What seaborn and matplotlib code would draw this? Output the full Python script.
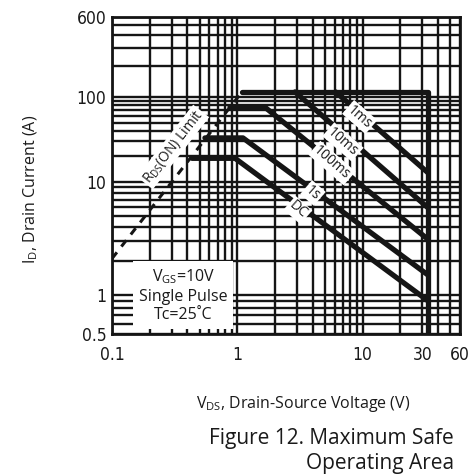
import numpy as np
import pandas as pd
import matplotlib
matplotlib.use("Agg")
import matplotlib.pyplot as plt
from matplotlib.ticker import FixedLocator, FixedFormatter, NullFormatter
from matplotlib import font_manager as fm
import seaborn as sns

# ---------------- data ----------------
curve_names = ["boundary", "1ms", "10ms", "100ms", "1s", "DC"]
boundary_v = [1.09, 33.4, 33.4]
boundary_i = [112, 112, 0.5]
ms1_v = [6.1, 33.4]
ms1_i = [112, 12.8]
ms10_v = [2.89, 33.4]
ms10_i = [112, 5.9]
ms100_v = [0.875, 1.66, 33.4]
ms100_i = [76, 76, 3.1]
s1_v = [0.552, 1.11, 33.4]
s1_i = [33, 33, 1.5]
dc_v = [0.435, 0.96, 33.4]
dc_i = [19, 19, 0.9]
rds_v = [0.1, 1.09]
rds_i = [2.1, 112]

label_texts = ["1ms", "10ms", "100ms", "1s", "DC"]
label_v = [9.5, 6.98, 5.70, 4.02, 3.05]
label_i = [58.2, 29.6, 16.7, 8.0, 5.65]

x_major = [0.1, 1, 10, 30, 60]
x_major_labels = ["0.1", "1", "10", "30", "60"]
x_minor = [0.2, 0.3, 0.4, 0.5, 0.6, 0.7, 0.8, 0.9,
           2, 3, 4, 5, 6, 7, 8, 9, 20, 40, 50]
y_major = [0.5, 1, 10, 100, 600]
y_major_labels = ["0.5", "1", "10", "100", "600"]
y_minor = [0.6, 0.7, 0.8, 0.9, 2, 3, 4, 5, 6, 7, 8, 9,
           20, 30, 40, 50, 60, 70, 80, 90, 200, 300, 400, 500]

# ---------------- build long table ----------------
rows = []
for name, vs, is_ in zip(curve_names,
                         [boundary_v, ms1_v, ms10_v, ms100_v, s1_v, dc_v],
                         [boundary_i, ms1_i, ms10_i, ms100_i, s1_i, dc_i]):
    for k, (v, i) in enumerate(zip(vs, is_)):
        rows.append({"curve": name, "order": k, "V": v, "I": i})
df = pd.DataFrame(rows)
df_rds = pd.DataFrame({"curve": "rds", "V": rds_v, "I": rds_i})

# ---------------- style ----------------
sns.set_style("white")
plt.rcParams["font.family"] = ["Open Sans", "DejaVu Sans"]
plt.rcParams["mathtext.fontset"] = "custom"
plt.rcParams["mathtext.rm"] = "Open Sans"

# pick a narrow face for the tick numbers if one is installed
_names = {f.name for f in fm.fontManager.ttflist}
if "Liberation Sans Narrow" in _names:
    tick_fp = fm.FontProperties(family="Liberation Sans Narrow", size=13)
else:
    tick_fp = fm.FontProperties(family="DejaVu Sans", stretch="condensed",
                                size=12.5)

# non-uniform log axis of the original drawing (piecewise in log space)
Y_LOG = np.array([np.log10(0.5), 0.0, 1.0, 2.0, np.log10(600)])
Y_POS = np.array([0.0, 39.0, 152.0, 237.0, 317.0])


def _interp_ext(x, xp, fp):
    x = np.asarray(x, dtype=float)
    out = np.interp(x, xp, fp)
    lo = x < xp[0]
    hi = x > xp[-1]
    s0 = (fp[1] - fp[0]) / (xp[1] - xp[0])
    s1 = (fp[-1] - fp[-2]) / (xp[-1] - xp[-2])
    out = np.where(lo, fp[0] + (x - xp[0]) * s0, out)
    out = np.where(hi, fp[-1] + (x - xp[-1]) * s1, out)
    return out


def y_fwd(v):
    v = np.asarray(v, dtype=float)
    with np.errstate(divide="ignore", invalid="ignore"):
        l = np.log10(np.clip(v, 1e-12, None))
    return _interp_ext(l, Y_LOG, Y_POS)


def y_inv(u):
    return 10 ** _interp_ext(u, Y_POS, Y_LOG)


fig = plt.figure(figsize=(4.76, 4.74), dpi=100)
ax = fig.add_axes([112 / 476, 1 - 334 / 474, 348 / 476, 317 / 474])

ax.set_xscale("log")
ax.set_yscale("function", functions=(y_fwd, y_inv))
ax.set_xlim(0.1, 60)
ax.set_ylim(0.5, 600)

ax.xaxis.set_major_locator(FixedLocator(x_major))
ax.xaxis.set_major_formatter(FixedFormatter(x_major_labels))
ax.xaxis.set_minor_locator(FixedLocator(x_minor))
ax.xaxis.set_minor_formatter(NullFormatter())
ax.yaxis.set_major_locator(FixedLocator(y_major))
ax.yaxis.set_major_formatter(FixedFormatter(y_major_labels))
ax.yaxis.set_minor_locator(FixedLocator(y_minor))
ax.yaxis.set_minor_formatter(NullFormatter())

ax.set_axisbelow(True)
ax.grid(True, which="both", color="#151515", linewidth=1.7)
ax.tick_params(which="both", length=0)
ax.tick_params(axis="both", labelcolor="#1a1a1a")
ax.tick_params(axis="x", pad=9)
ax.tick_params(axis="y", pad=4)
for sp in ax.spines.values():
    sp.set_color("#151515")
    sp.set_linewidth(2.0)

# ---------------- curves ----------------
sns.lineplot(data=df, x="V", y="I", units="curve", estimator=None,
             sort=False, color="#151515", linewidth=3.8, ax=ax, legend=False)
sns.lineplot(data=df_rds, x="V", y="I", estimator=None, sort=False,
             color="#151515", linewidth=2.2, dashes=False, ax=ax, legend=False)
ax.lines[-1].set_dashes((2.6, 2.4))

box = dict(boxstyle="square,pad=0.12", facecolor="white", edgecolor="none")
for t, v, i in zip(label_texts, label_v, label_i):
    ax.text(v, i, t, rotation=-41, ha="center", va="center", fontsize=10,
            color="#1a1a1a", bbox=box, zorder=5)

ax.text(0.307, 25.8, r"R$_\mathregular{DS}$(ON) Limit", rotation=52,
        ha="center", va="center", fontsize=10, color="#1a1a1a",
        bbox=box, zorder=5)

ax.text(0.205, 0.122,
        "V$_\\mathregular{GS}$=10V\nSingle Pulse\nTc=25˚C",
        transform=ax.transAxes, ha="center", va="center",
        multialignment="center", fontsize=11.5, color="#1a1a1a",
        linespacing=1.2,
        bbox=dict(boxstyle="square,pad=0.35", facecolor="white",
                  edgecolor="none"), zorder=5)

# ---------------- labels ----------------
ax.set_xlabel(r"V$_\mathregular{DS}$, Drain-Source Voltage (V)",
              fontsize=11.5, color="#1a1a1a")
ax.xaxis.set_label_coords(0.549, -0.222)
ax.xaxis.label.set_va("center")
ax.set_ylabel(r"I$_\mathregular{D}$, Drain Current (A)",
              fontsize=11.5, color="#1a1a1a")
ax.yaxis.set_label_coords(-0.232, 0.457)
ax.yaxis.label.set_va("center")

fig.text(454 / 476, 1 - 451 / 474, "Figure 12. Maximum Safe\nOperating Area",
         ha="right", va="center", multialignment="right", fontsize=15,
         color="#1a1a1a", linespacing=1.3)

fig.canvas.draw()
for lab in ax.get_xticklabels() + ax.get_yticklabels():
    lab.set_fontproperties(tick_fp)

fig.savefig("out.png", dpi=100)
